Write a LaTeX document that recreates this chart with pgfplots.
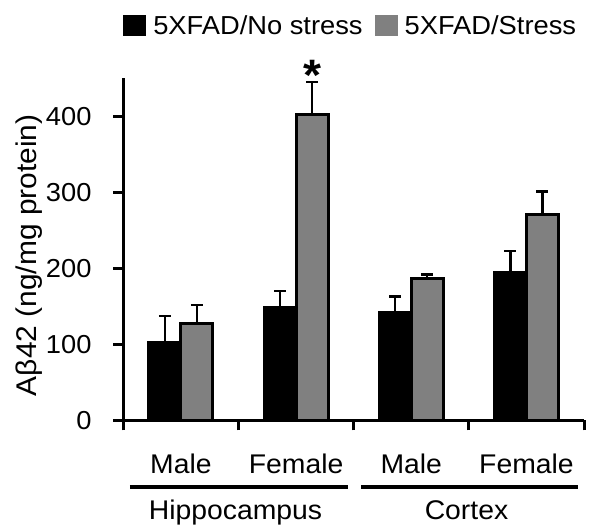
\documentclass[border=0pt]{standalone}
\usepackage{fontspec}
\setmainfont{Liberation Sans}[FakeStretch=1.05]
\usepackage{pgfplots}
\pgfplotsset{compat=1.18}
\definecolor{bargray}{RGB}{128,128,128}
\begin{document}
\fontsize{26}{31}\selectfont
\begin{tikzpicture}
\begin{axis}[
  name=ax,
  scale only axis, width=460.7pt, height=342pt,
  xmin=0, xmax=4, ymin=0, ymax=450,
  axis lines*=left,
  axis line style={line width=3pt, black},
  xtick={0,1,2,3,4}, xticklabels={},
  ytick={0,100,200,300,400},
  tick align=outside, major tick length=10pt,
  tick style={line width=3pt, black},
  yticklabel style={inner sep=0pt},
  yticklabel shift=21.6pt,
  /pgf/number format/assume math mode=true,
  ybar=0pt, bar width=32pt,
  clip=false,
  ylabel={Aβ42 (ng/mg protein)},
  ylabel style={at={(axis description cs:-0.2035,0.4825)}, anchor=center, inner sep=0pt, font=\fontsize{28.5}{34}\selectfont},
  legend columns=2,
  legend style={at={(axis description cs:0,1)}, anchor=north west, yshift=63.7pt,
    draw=none, fill=none, inner sep=0pt, outer sep=0pt,
    nodes={inner sep=0pt, anchor=base west},
    /tikz/every odd column/.append style={column sep=7pt},
    /tikz/every even column/.append style={column sep=12pt}},
]
\addplot[fill=black, draw=black, line width=3pt,
  legend image code/.code={\fill[black] (0pt,0pt) rectangle (20pt,18.3pt);},
  error bars/.cd, y dir=plus, y explicit,
  error bar style={line width=2.5pt, black},
  error mark options={rotate=90, line width=2.5pt, mark size=6pt, black}]
  coordinates {(0.5,103) +- (0,34) (1.5,149) +- (0,21) (2.5,142) +- (0,21) (3.5,195) +- (0,28)};
\addplot[fill=bargray, draw=black, line width=3pt,
  legend image code/.code={\fill[bargray] (0pt,0pt) rectangle (20pt,18.3pt);},
  error bars/.cd, y dir=plus, y explicit,
  error bar style={line width=2.5pt, black},
  error mark options={rotate=90, line width=2.5pt, mark size=6pt, black}]
  coordinates {(0.5,127) +- (0,25) (1.5,403) +- (0,42) (2.5,186) +- (0,6) (3.5,271) +- (0,30)};
\legend{5XFAD/No stress, 5XFAD/Stress}
\node[font=\fontsize{44}{50}\selectfont\bfseries, anchor=center, inner sep=0pt] at ([xshift=16pt,yshift=6.3pt]axis cs:1.5,445) {*};
\end{axis}
\begin{scope}[every node/.style={font=\fontsize{27}{32}\selectfont, inner sep=0pt, anchor=base}]
\foreach \x/\t in {57.6/Male,172.8/Female,288/Male,403.2/Female}{
  \node at ([xshift=\x pt,yshift=-53pt]ax.south west) {\t};
}
\draw[line width=4pt] ([xshift=6.7pt,yshift=-66.4pt]ax.south west) -- ++(218pt,0);
\draw[line width=4pt] ([xshift=237.7pt,yshift=-66.4pt]ax.south west) -- ++(217pt,0);
\node at ([xshift=112.2pt,yshift=-99.7pt]ax.south west) {Hippocampus};
\node at ([xshift=343.2pt,yshift=-99.7pt]ax.south west) {Cortex};
\end{scope}
\pgfresetboundingbox
\useasboundingbox ([xshift=-123.3pt,yshift=-108.7pt]ax.south west) rectangle ++(600pt,529pt);
\end{tikzpicture}
\end{document}
